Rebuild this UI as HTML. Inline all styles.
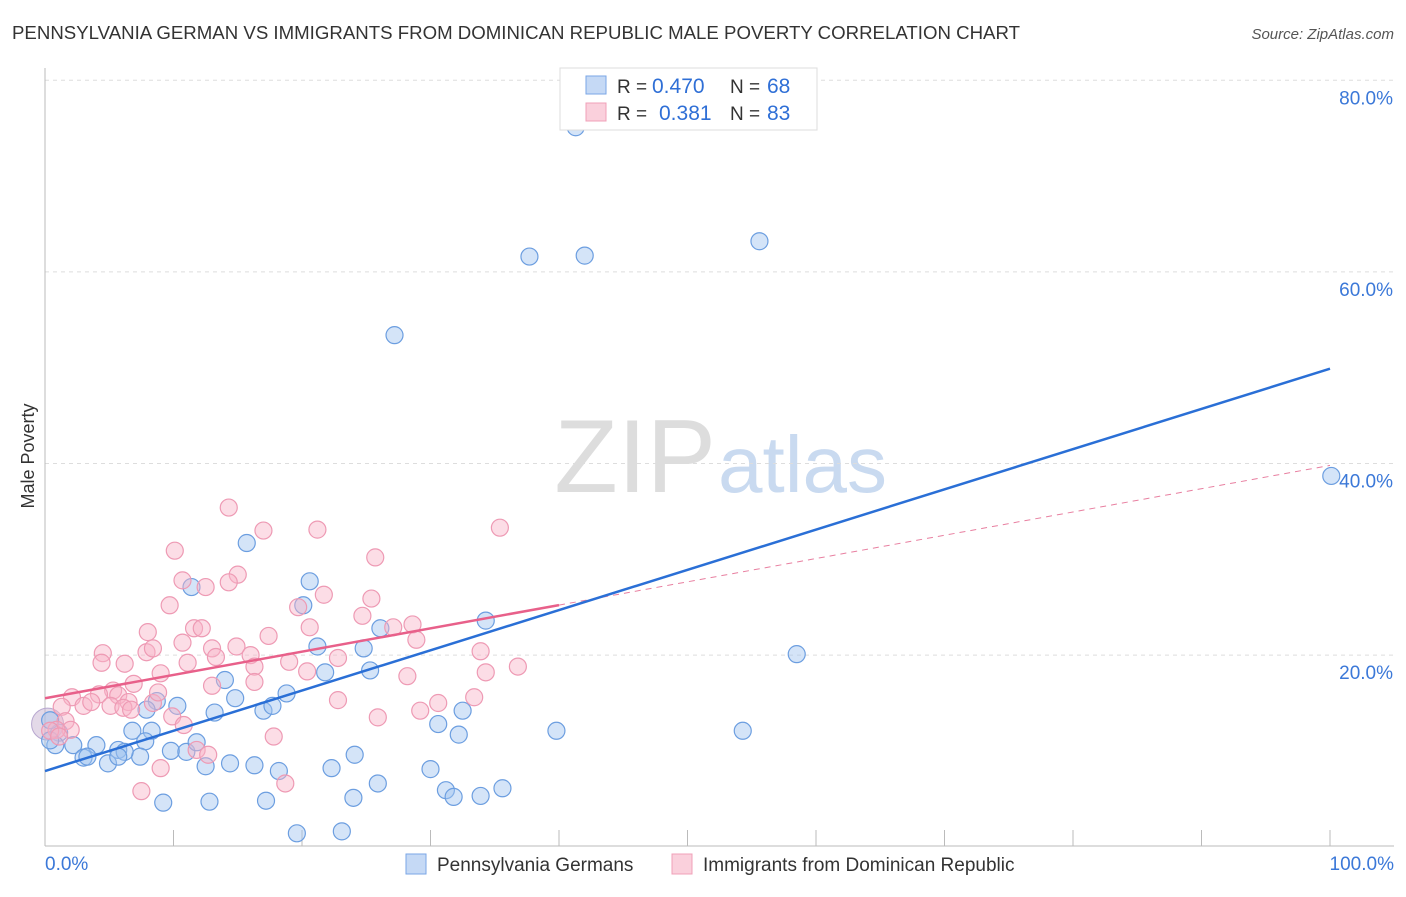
<!DOCTYPE html>
<html><head><meta charset="utf-8"><style>
body{margin:0;background:#fff;font-family:"Liberation Sans",sans-serif;}
svg text{font-family:"Liberation Sans",sans-serif;}
</style></head><body>
<svg width="1406" height="892">
<text x="12" y="39" font-size="18" fill="#333" textLength="1008" lengthAdjust="spacingAndGlyphs">PENNSYLVANIA GERMAN VS IMMIGRANTS FROM DOMINICAN REPUBLIC MALE POVERTY CORRELATION CHART</text>
<text x="1394" y="39" font-size="15" fill="#555" font-style="italic" text-anchor="end">Source: ZipAtlas.com</text>
<text x="716" y="492" font-size="104" fill="#ddd" text-anchor="end" font-family="Liberation Serif">ZIP</text>
<text x="718" y="492" font-size="80" fill="#c9daf0">atlas</text>
<g id="grid"></g><g id="axes"></g><g id="pts"></g><g id="lines"></g>
<text transform="translate(34,456) rotate(-90)" font-size="18" fill="#333" text-anchor="middle">Male Poverty</text>
<g>
<rect x="560" y="68" width="257" height="62" fill="#fff" stroke="#ddd"/>
<rect x="586" y="76" width="20" height="18" fill="#c5d9f5" stroke="#7aa6e6"/>
<rect x="586" y="103" width="20" height="18" fill="#fad0dc" stroke="#f0a0b8"/>
<text x="617" y="93" font-size="19" fill="#333">R =</text><text x="652" y="93" font-size="21" fill="#2f6fd6">0.470</text>
<text x="730" y="93" font-size="19" fill="#333">N =</text><text x="767" y="93" font-size="21" fill="#2f6fd6">68</text>
<text x="617" y="120" font-size="19" fill="#333">R =</text><text x="659" y="120" font-size="21" fill="#2f6fd6">0.381</text>
<text x="730" y="120" font-size="19" fill="#333">N =</text><text x="767" y="120" font-size="21" fill="#2f6fd6">83</text>
</g>
<g>
<rect x="406" y="854" width="20" height="20" fill="#c5d9f5" stroke="#7aa6e6"/>
<text x="437" y="871" font-size="19" fill="#333">Pennsylvania Germans</text>
<rect x="672" y="854" width="20" height="20" fill="#fad0dc" stroke="#f0a0b8"/>
<text x="703" y="871" font-size="19" fill="#333">Immigrants from Dominican Republic</text>
</g>
</svg>
<script>
const xTicks=[0,10,20,30,40,50,60,70,80,90,100];
const yTicks=[20,40,60,80];
const yTickLabels=["20.0%","40.0%","60.0%","80.0%"];
const bluePx=[[576,127],[530,257],[585,256],[759,241],[395,335],[1331,476],[797,654],[247,543],[303,605],[310,581],[192,587],[317,646],[364,648],[381,628],[486,621],[325,672],[370,670],[286,693],[235,698],[225,680],[263,711],[272,706],[215,713],[157,701],[177,706],[132,731],[152,731],[145,741],[96,745],[118,750],[73,745],[83,758],[59,733],[55,745],[50,740],[140,757],[125,752],[108,763],[171,751],[186,752],[196,742],[205,766],[230,763],[255,765],[279,771],[332,768],[355,755],[438,724],[459,735],[463,711],[556,731],[743,731],[430,769],[446,790],[453,797],[480,796],[503,788],[378,783],[353,798],[163,803],[209,802],[266,801],[297,833],[342,831],[88,757],[118,757],[146,710],[50,720]];
const pinkPx=[[229,508],[317,530],[500,528],[263,531],[175,551],[375,557],[182,580],[238,575],[229,582],[205,587],[170,605],[324,595],[298,607],[371,599],[362,616],[412,624],[393,627],[416,640],[268,636],[148,632],[194,628],[202,628],[237,646],[212,648],[182,643],[146,652],[153,648],[187,663],[216,657],[251,655],[103,653],[101,663],[125,664],[161,673],[254,667],[289,662],[307,671],[338,658],[481,651],[486,672],[518,667],[407,676],[212,686],[134,684],[113,691],[72,697],[99,694],[118,695],[129,702],[110,706],[123,708],[131,710],[84,706],[91,702],[62,707],[66,721],[71,730],[56,730],[50,731],[59,737],[172,716],[184,725],[153,703],[438,703],[474,697],[378,717],[420,711],[274,737],[197,750],[208,755],[161,768],[285,783],[142,791],[254,682],[158,692],[310,627],[338,700]];
const blueX=bluePx.map(p=>+((p[0]-45)/12.85).toFixed(1));
const blueY=bluePx.map(p=>+((846.7-p[1])/9.58).toFixed(1));
const pinkX=pinkPx.map(p=>+((p[0]-45)/12.85).toFixed(1));
const pinkY=pinkPx.map(p=>+((846.7-p[1])/9.58).toFixed(1));
const blueTrend=[7.9,49.9];
const pinkTrend=[15.5,39.8];
const pinkSolidEnd=40;

const X=v=>45+v*12.85, Y=v=>846.7-v*9.58;
const NS="http://www.w3.org/2000/svg";
function mk(t,a,p){const e=document.createElementNS(NS,t);for(const k in a)e.setAttribute(k,a[k]);document.getElementById(p).appendChild(e);return e;}
yTicks.forEach((t,i)=>{
 const l=mk('line',{x1:45,x2:1394,y1:Y(t),y2:Y(t),stroke:'#ddd','stroke-dasharray':'4,4'},'grid');
 
 
 const tx=mk('text',{x:1393,y:Y(t)+24,'font-size':19,fill:'#3b78d8','text-anchor':'end'},'grid');
 tx.textContent=yTickLabels[i];
 
 
});
mk('line',{x1:45,x2:45,y1:68,y2:846,stroke:'#bbb'},'axes');
mk('line',{x1:45,x2:1394,y1:846,y2:846,stroke:'#bbb'},'axes');
xTicks.forEach(t=>{const l=mk('line',{x1:X(t),x2:X(t),y1:830,y2:846,stroke:'#bbb'},'axes');
 
 });
const t0=mk('text',{x:45,y:870,'font-size':19,fill:'#3b78d8'},'axes');t0.textContent='0.0%';


const t1=mk('text',{x:1394,y:870,'font-size':19,fill:'#3b78d8','text-anchor':'end'},'axes');t1.textContent='100.0%';


const big=mk('circle',{cx:X(0.2),cy:Y(12.8),r:16,fill:'rgba(200,180,210,0.5)',stroke:'#b8a8d0'},'pts');


blueX.forEach((x,i)=>{const c=mk('circle',{cx:X(x),cy:Y(blueY[i]),r:8.5,fill:'rgba(160,195,240,0.45)',stroke:'#6c9ee0','stroke-width':1.2},'pts');
 
 });
pinkX.forEach((x,i)=>{const c=mk('circle',{cx:X(x),cy:Y(pinkY[i]),r:8.5,fill:'rgba(248,180,200,0.45)',stroke:'#ee9ab4','stroke-width':1.2},'pts');
 
 });
const pv=x=>pinkTrend[0]+(pinkTrend[1]-pinkTrend[0])*x/100;
const pd=mk('line',{x1:X(pinkSolidEnd),y1:Y(pv(pinkSolidEnd)),x2:X(100),y2:Y(pinkTrend[1]),stroke:'#e87fa0','stroke-dasharray':'6,5','stroke-width':1},'lines');


const bl=mk('line',{x1:X(0),y1:Y(blueTrend[0]),x2:X(100),y2:Y(blueTrend[1]),stroke:'#2a6fd6','stroke-width':2.5},'lines');


const pl=mk('line',{x1:X(0),y1:Y(pinkTrend[0]),x2:X(pinkSolidEnd),y2:Y(pv(pinkSolidEnd)),stroke:'#e8608a','stroke-width':2.5},'lines');


</script>
</body></html>
